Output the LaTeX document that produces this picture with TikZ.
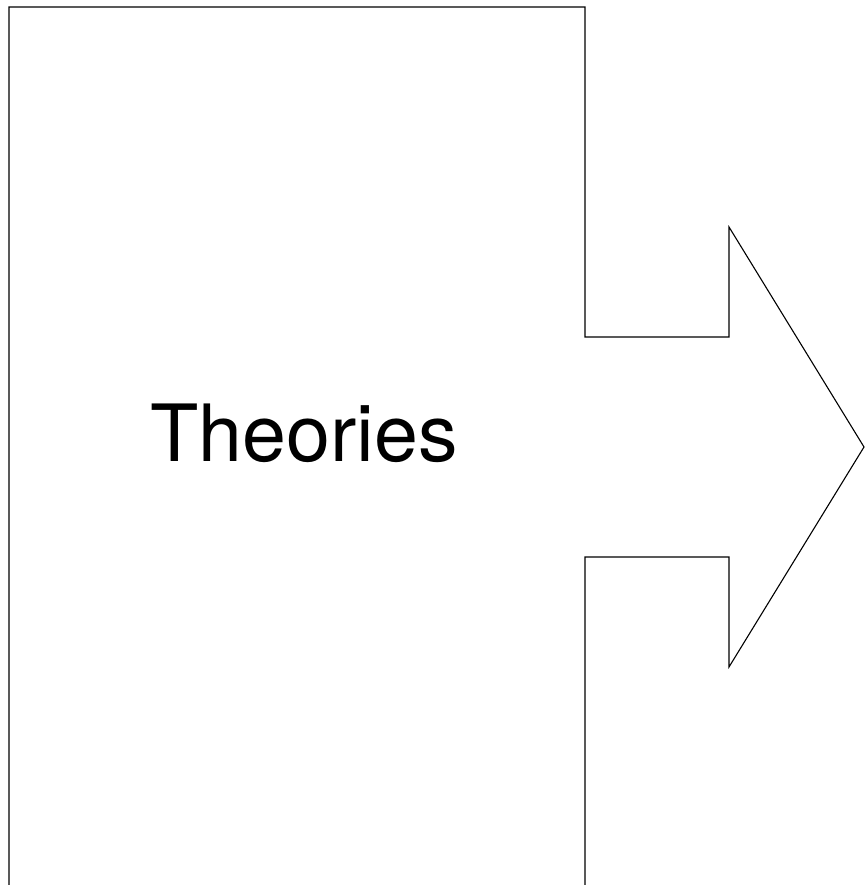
\documentclass[tikz,border=0pt]{standalone}
\usepackage{fontspec}
\setmainfont{TeX Gyre Heros}
\usepackage{tikz}
\usetikzlibrary{positioning}
\tikzset{
    every picture/.style={line join=miter},
    outline/.style={draw=black,line width=1.1pt},
    bigtitle/.style={font=\fontsize{79}{90}\selectfont,inner sep=0pt,text=black}
}
\begin{document}
\begin{tikzpicture}[x=1pt,y=1pt]
  \useasboundingbox (0,0) rectangle (865,885);
  % block with arrow on the right
  \draw[outline] (9,0) -- (9,878) -- (585,878) -- (585,548) -- (729,548)
    -- (729,658) -- (864,438) -- (729,218) -- (729,328) -- (585,328) -- (585,0);
  \node[bigtitle,anchor=base west] (theories) at (150,423) {Theories};
\end{tikzpicture}
\end{document}
